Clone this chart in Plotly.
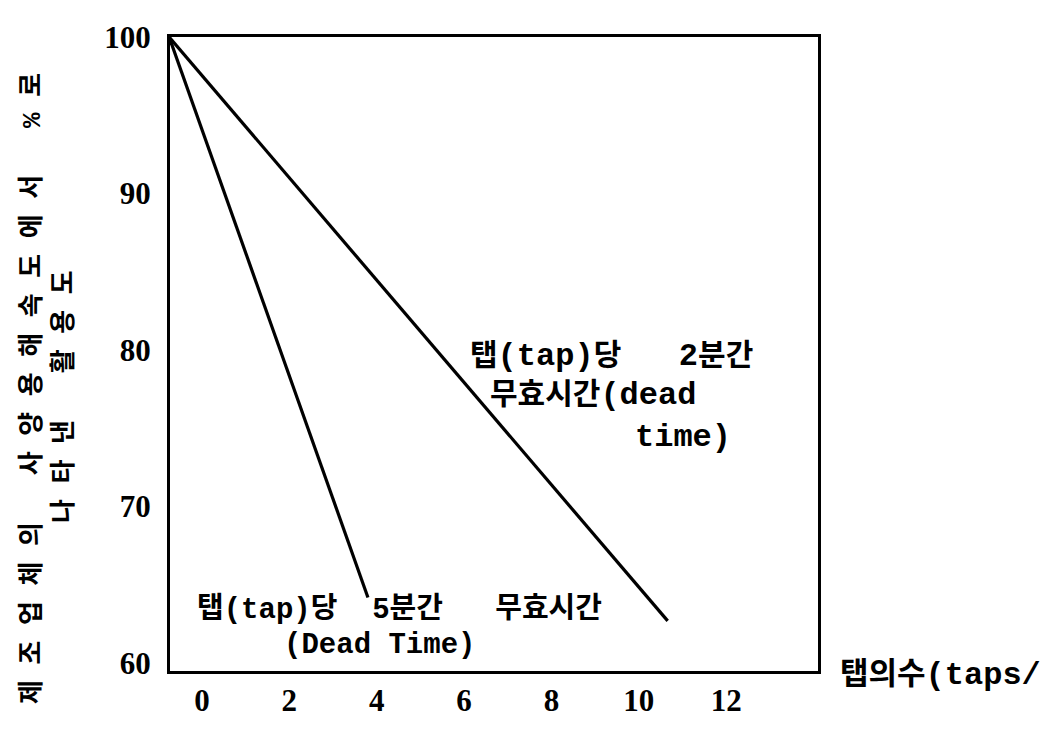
import plotly.graph_objects as go

# Data
x_5min = [-0.75, 3.8]
y_5min = [100, 64.2]
x_2min = [-0.75, 10.66]
y_2min = [100, 62.7]

x_ticks = [0, 2, 4, 6, 8, 10, 12]
y_ticks = [60, 70, 80, 90, 100]

KFONT = "Liberation Mono, Noto Sans CJK KR, sans-serif"
LAT = "<span style='font-size:32px'>"
LAT2 = "<span style='font-size:29px'>"
KOR2 = "<span style='font-size:29px'>"
NB = "\u00a0"

L, R, T, B = 162, 810, 22, 663

fig = go.Figure()
fig.add_trace(go.Scatter(x=x_5min, y=y_5min, mode="lines",
                         line=dict(color="black", width=3.2), showlegend=False))
fig.add_trace(go.Scatter(x=x_2min, y=y_2min, mode="lines",
                         line=dict(color="black", width=3.2), showlegend=False))

axis_common = dict(showgrid=False, zeroline=False, showline=True, linecolor="black",
                   linewidth=3, mirror=True, ticks="",
                   tickfont=dict(family="Liberation Serif", size=31, color="black"))

fig.update_xaxes(range=[-0.73, 14.1], tickvals=x_ticks,
                 ticktext=[f"<b>{v}</b>" for v in x_ticks], ticklabelstandoff=0,
                 **axis_common)
fig.update_yaxes(range=[59.5, 100.0], tickvals=y_ticks,
                 ticktext=[f"<b>{v}</b>" for v in y_ticks], ticklabelstandoff=10,
                 **axis_common)

def ann(text, px, py, anchor="left", angle=0, size=30, yanchor="middle"):
    fig.add_annotation(text=text, xref="paper", yref="paper",
                       x=(px - L) / (R - L), y=(B - py) / (B - T),
                       xanchor=anchor, yanchor=yanchor, showarrow=False,
                       textangle=angle, align="left",
                       font=dict(family=KFONT, size=size, color="black"))

# Upper block (2 min)
ann(f"<b>탭{LAT}(tap)</span>당{LAT}   2</span>분간</b>", 460, 345)
ann(f"<b>무효시간{LAT}(dead</span></b>", 480, 384)
ann(f"<b>{LAT}time)</span></b>", 625, 427)
# Lower block (5 min): one text, two lines
ann(f"<b>{KOR2}탭</span>{LAT2}(tap)</span>{KOR2}당</span>{LAT2}  5</span>{KOR2}분간</span>"
    f"{LAT2}   </span>{KOR2}무효시간</span><br>"
    f"{LAT2}{NB*5}(Dead Time)</span></b>", 187, 619, size=27)
# X axis title
ann(f"<b>탭의수{LAT}(taps/</span></b>", 830, 668, size=31)
# Y axis title (rotated)
ann("<b>제 조 업 체 의   사 양 용 해 속 도 에 서   % 로</b>", 24, 378, anchor="center", angle=-90, size=26)
ann("<b>나 타 낸   활 용 도</b>", 56, 386, anchor="center", angle=-90, size=26)

fig.update_layout(width=1058, height=741,
                  margin=dict(l=L, r=1058 - R, t=T, b=741 - B),
                  paper_bgcolor="white", plot_bgcolor="white")

fig.write_html("out.html")
